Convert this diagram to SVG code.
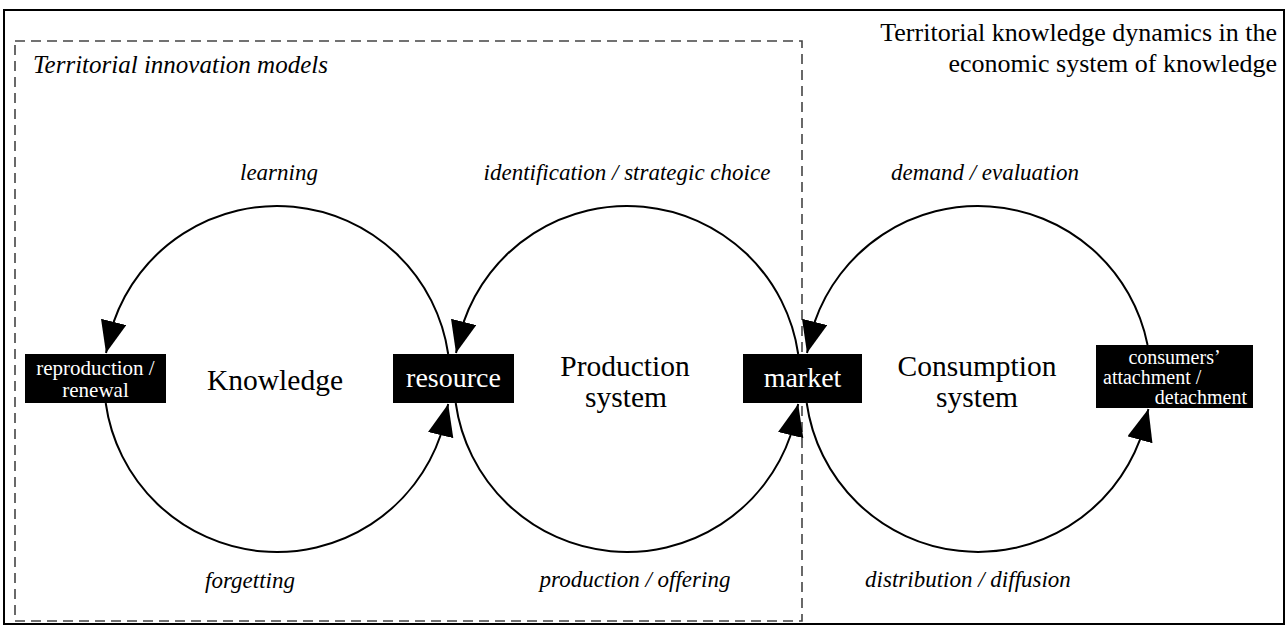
<svg xmlns="http://www.w3.org/2000/svg" width="1286" height="625" viewBox="0 0 1286 625" font-family="'Liberation Serif', 'DejaVu Serif', serif">
<defs>
<style>
text{font-family:'Liberation Serif','DejaVu Serif',serif;fill:#000}
.it{font-style:italic;font-size:23px}
.big{font-size:29.5px}
.bx{font-size:28px}
.w{fill:#fff}
.arc{fill:none;stroke:#000;stroke-width:2}
.box{fill:#000}
</style>
<marker id="ah" markerUnits="userSpaceOnUse" markerWidth="34" markerHeight="28" refX="32" refY="13" orient="auto">
<path d="M0,0 L32,13 L0,26 z" fill="#000"/>
</marker>
</defs>
<rect width="1286" height="625" fill="#fff"/>
<rect x="4" y="10" width="1280" height="614" fill="none" stroke="#000" stroke-width="2"/>
<g id="tim">
<rect x="15" y="41" width="787" height="580" fill="none" stroke="#444" stroke-width="1.6" stroke-dasharray="10,6"/>
<text x="33" y="73" font-size="25" font-style="italic">Territorial innovation models</text>
</g>
<g id="title">
<text x="1277" y="41" font-size="26" text-anchor="end">Territorial knowledge dynamics in the</text>
<text x="1277" y="72" font-size="26" text-anchor="end">economic system of knowledge</text>
</g>
<g id="connectors">
<path class="arc" d="M448.2,354 A173,173 0 0 0 113.6,322.1 L106,353" marker-end="url(#ah)"/>
<path class="arc" d="M105.7,403 A173,173 0 0 0 440.7,435 L448.2,404" marker-end="url(#ah)"/>
<path class="arc" d="M798.2,354 A173,173 0 0 0 463.6,322.1 L456,353" marker-end="url(#ah)"/>
<path class="arc" d="M455.7,403 A173,173 0 0 0 790.7,435 L798.2,404" marker-end="url(#ah)"/>
<path class="arc" d="M1147.6,345 A173,173 0 0 0 814.6,322.1 L807,353" marker-end="url(#ah)"/>
<path class="arc" d="M806.7,403 A173,173 0 0 0 1139.9,439.9 L1148.4,409" marker-end="url(#ah)"/>
<text class="it" x="279" y="180" text-anchor="middle">learning</text>
<text class="it" x="250" y="588" text-anchor="middle">forgetting</text>
<text class="it" x="627" y="180" text-anchor="middle">identification / strategic choice</text>
<text class="it" x="635" y="587" text-anchor="middle">production / offering</text>
<text class="it" x="985" y="180" text-anchor="middle">demand / evaluation</text>
<text class="it" x="968" y="587" text-anchor="middle">distribution / diffusion</text>
</g>
<g id="knowledge">
<text class="big" x="275" y="390" text-anchor="middle">Knowledge</text>
</g>
<g id="production">
<text class="big" x="625" y="376" text-anchor="middle">Production</text>
<text class="big" x="626" y="407" text-anchor="middle">system</text>
</g>
<g id="consumption">
<text class="big" x="977" y="376" text-anchor="middle">Consumption</text>
<text class="big" x="977" y="407" text-anchor="middle">system</text>
</g>
<g id="reproduction">
<rect class="box" x="25" y="354" width="141" height="49"/>
<text class="w" x="95.5" y="375" font-size="21" text-anchor="middle">reproduction /</text>
<text class="w" x="95.5" y="397" font-size="21" text-anchor="middle">renewal</text>
</g>
<g id="resource">
<rect class="box" x="393" y="354" width="121" height="49"/>
<text class="w bx" x="453.5" y="387" text-anchor="middle">resource</text>
</g>
<g id="market">
<rect class="box" x="743" y="354" width="119" height="49"/>
<text class="w bx" x="802.5" y="387" text-anchor="middle">market</text>
</g>
<g id="consumers">
<rect class="box" x="1096" y="345" width="157" height="63"/>
<text class="w" x="1174.5" y="364" font-size="20" text-anchor="middle">consumers’</text>
<text class="w" x="1103" y="384" font-size="20">attachment /</text>
<text class="w" x="1247" y="404" font-size="20" text-anchor="end">detachment</text>
</g>
</svg>
